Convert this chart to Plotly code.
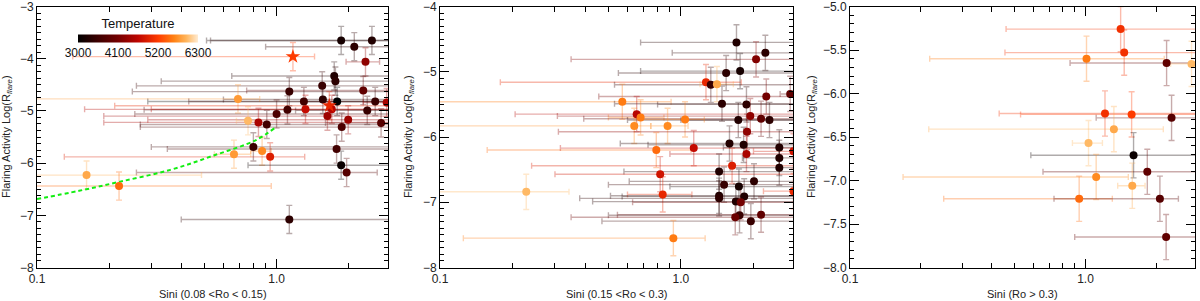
import re
import plotly.graph_objects as go
from plotly.colors import sample_colorscale

TMIN, TMAX = 3000, 6300
CSCALE = [[0.0, 'rgb(0,0,0)'], [0.15, 'rgb(55,0,0)'], [0.33, 'rgb(115,0,0)'],
          [0.5, 'rgb(190,5,0)'], [0.67, 'rgb(255,60,0)'], [0.8, 'rgb(255,130,20)'],
          [0.9, 'rgb(255,180,90)'], [1.0, 'rgb(255,235,210)']]
CB_TICKS = [3000, 4100, 5200, 6300]

# ---------------- Panel 1 (0.08 < Ro < 0.15) ----------------
P1_X = [1.86, 2.50, 2.11, 2.35, 1.74, 1.76, 1.13, 1.55, 2.30, 1.56, 1.79, 0.69, 1.30, 2.58,
        2.88, 1.70, 1.32, 1.11, 2.39, 1.00, 1.63, 1.99, 0.84, 0.76, 0.91, 1.87, 2.73, 0.80,
        0.87, 0.94, 1.78, 1.86, 1.96, 1.13, 0.161, 0.220, 0.664]
P1_Y = [-3.65, -3.65, -3.77, -4.06, -4.33, -4.43, -4.63, -4.52, -4.61, -4.78, -4.82, -4.77,
        -4.82, -4.82, -4.84, -4.97, -4.97, -4.98, -4.99, -5.06, -5.10, -5.17, -5.22, -5.19,
        -5.26, -5.31, -5.23, -5.69, -5.77, -5.88, -5.73, -6.04, -6.18, -7.08, -6.23, -6.44,
        -5.83]
P1_T = [3200, 3300, 3400, 4300, 3300, 3400, 3500, 3500, 3900, 3400, 3000, 5800, 3600, 3500,
        4500, 4600, 4700, 3600, 3500, 3700, 4400, 4400, 4500, 6000, 3600, 3700, 3800, 3500,
        5700, 4900, 3600, 3100, 3800, 3400, 5900, 5500, 5800]
P1_XLO = [0.51, 0.53, 0.90, 1.95, 0.65, 0.33, 0.25, 0.26, 0.75, 0.60, 0.29, 0.05, 0.43, 1.30,
          2.30, 0.158, 0.30, 0.28, 1.20, 0.256, 0.19, 0.29, 0.19, 0.68, 0.27, 0.27, 1.60, 0.30,
          0.78, 0.13, 0.35, 0.76, 0.26, 0.40, 0.05, 0.05, 0.55]
P1_XHI = [5, 5, 5, 2.69, 5, 5, 5, 5, 5, 5, 5, 0.85, 5, 5,
          5, 5, 5, 5, 5, 5, 5, 5, 5, 0.85, 5, 5, 5, 5,
          0.95, 1.31, 5, 5, 2.63, 5, 0.486, 0.95, 0.78]
P1_YERR = [0.27, 0.27, 0.27, 0.27, 0.27, 0.27, 0.27, 0.27, 0.27, 0.27, 0.27, 0.27, 0.27, 0.27,
           0.27, 0.27, 0.27, 0.27, 0.27, 0.27, 0.27, 0.27, 0.27, 0.27, 0.27, 0.27, 0.27, 0.27,
           0.27, 0.27, 0.27, 0.27, 0.27, 0.27, 0.27, 0.27, 0.27]
# star symbols in panel 1
P1S_X = [1.17, 1.66]
P1S_Y = [-3.96, -4.90]
P1S_T = [5200, 5000]
P1S_XLO = [0.141, 0.211]
P1S_XHI = [1.44, 5]
P1S_YERR = [0.27, 0.27]
# green dashed relation in panel 1
LINE_X = [0.10, 0.15, 0.22, 0.36, 0.55, 0.82, 0.98]
LINE_Y = [-6.69, -6.53, -6.36, -6.13, -5.85, -5.56, -5.33]

# ---------------- Panel 2 (0.15 < Ro < 0.3) ----------------
P2_X = [1.70, 2.24, 2.05, 1.54, 1.76, 1.27, 1.33, 1.41, 2.84, 2.26, 0.571, 1.48, 1.87, 0.655,
        0.68, 1.94, 2.15, 2.33, 1.73, 1.04, 0.64, 0.88, 1.88, 1.59, 1.82, 1.13, 0.79, 2.56,
        2.93, 1.87, 2.56, 2.56, 1.63, 1.44, 0.82, 2.01, 1.51, 1.74, 2.93, 0.84, 1.83, 1.44,
        1.44, 1.69, 1.77, 2.15, 1.75, 1.68, 1.95, 0.93, 0.228]
P2_Y = [-4.55, -4.71, -4.81, -5.02, -4.99, -5.16, -5.20, -5.19, -5.34, -5.38, -5.46, -5.49,
        -5.50, -5.65, -5.70, -5.68, -5.72, -5.74, -5.74, -5.73, -5.83, -5.83, -5.92, -6.10,
        -6.12, -6.17, -6.20, -6.16, -6.22, -6.26, -6.32, -6.47, -6.44, -6.53, -6.57, -6.68,
        -6.73, -6.76, -6.83, -6.88, -6.91, -6.90, -6.94, -6.99, -7.00, -7.19, -7.20, -7.23,
        -7.29, -7.55, -6.84]
P2_T = [3300, 3400, 4200, 3400, 3200, 5000, 3500, 5900, 3900, 4100, 5600, 3400, 3400, 4600,
        5600, 4300, 3900, 3400, 3300, 5600, 5700, 5700, 4300, 3300, 3300, 4700, 5500, 3300,
        4800, 4500, 3300, 3300, 4900, 3300, 4800, 3400, 3500, 3200, 5000, 5000, 3300, 3300,
        3400, 3300, 4100, 3900, 3500, 4000, 3500, 5600, 6000]
P2_XLO = [0.68, 0.92, 0.35, 0.55, 0.68, 0.178, 0.53, 1.20, 2.58, 0.456, 0.05, 0.53, 0.80, 0.205,
          0.50, 0.307, 0.395, 1.00, 0.60, 0.65, 0.05, 0.75, 0.31, 0.56, 0.73, 0.316, 0.157, 1.50,
          2.00, 0.90, 1.80, 1.60, 0.24, 0.58, 0.30, 0.61, 0.50, 0.90, 2.20, 0.60, 0.57, 0.51,
          0.38, 0.43, 0.63, 0.545, 0.50, 0.35, 0.47, 0.125, 0.05]
P2_XHI = [5, 5, 5, 5, 5, 1.78, 5, 1.65, 5, 5, 0.91, 5, 5, 5,
          0.85, 5, 5, 5, 5, 1.25, 0.75, 1.07, 5, 5, 5, 5, 1.10, 5,
          5, 5, 5, 5, 5, 5, 5, 5, 5, 5, 5, 1.11, 5, 5,
          5, 5, 5, 5, 5, 5, 5, 1.26, 0.343]
P2_YERR = [0.27, 0.27, 0.27, 0.27, 0.27, 0.27, 0.27, 0.27, 0.27, 0.27, 0.27, 0.27, 0.27, 0.27,
           0.27, 0.27, 0.27, 0.27, 0.27, 0.27, 0.27, 0.27, 0.27, 0.27, 0.27, 0.27, 0.27, 0.27,
           0.27, 0.27, 0.27, 0.27, 0.27, 0.27, 0.27, 0.27, 0.27, 0.27, 0.27, 0.27, 0.27, 0.27,
           0.27, 0.27, 0.27, 0.27, 0.27, 0.27, 0.27, 0.27, 0.27]

# ---------------- Panel 3 (Ro > 0.3) ----------------
P3_X = [1.41, 1.46, 1.01, 2.21, 2.82, 1.21, 1.57, 2.32, 1.32, 1.03, 1.60, 1.83, 1.11, 1.58,
        0.94, 2.07, 2.20]
P3_Y = [-5.26, -5.53, -5.60, -5.65, -5.66, -6.23, -6.24, -6.28, -6.41, -6.57, -6.71, -6.90,
        -6.96, -7.06, -7.21, -7.21, -7.65]
P3_T = [5100, 5100, 5600, 3900, 6000, 5100, 5200, 3800, 5900, 6000, 3100, 3900, 5700, 5900,
        5500, 3800, 3900]
P3_XLO = [0.46, 0.455, 0.218, 0.86, 2.30, 0.43, 0.53, 1.11, 0.216, 0.88, 0.586, 0.66, 0.168,
          1.37, 0.25, 0.735, 0.90]
P3_XHI = [5, 5, 2.16, 5, 5, 5, 5, 5, 2.14, 1.18, 5, 5, 1.52, 1.79, 1.30, 2.48, 5]
P3_YERR = [0.26, 0.26, 0.26, 0.26, 0.26, 0.26, 0.26, 0.26, 0.26, 0.26, 0.26, 0.26, 0.26, 0.26,
           0.26, 0.26, 0.26]

Y_TICKS = [[-8, -7, -6, -5, -4, -3], [-8, -7, -6, -5, -4], [-8.0, -7.5, -7.0, -6.5, -6.0, -5.5, -5.0]]
X_TITLES = ['Sini (0.08 &lt;Ro &lt; 0.15)', 'Sini (0.15 &lt;Ro &lt; 0.3)', 'Sini (Ro &gt; 0.3)']
Y_TITLE = 'Flaring Activity Log(R<sub><i>flare</i></sub>)'

FONT = 'Liberation Sans'
W, H = 1200, 301
# plot-area pixel boxes (left, right) ; common top/bottom
PX_BOX = [(37, 388), (440, 793), (850, 1195)]
TOP, BOT = 6.5, 267.5
YTITLE_X = [7, 409, 812]


def tcolor(t, a):
    c = sample_colorscale(CSCALE, [(t - TMIN) / (TMAX - TMIN)])[0]
    r, g, b = [float(v) for v in re.findall(r'[\d.]+', c)[:3]]
    return f'rgba({r:.0f},{g:.0f},{b:.0f},{a})'


fig = go.Figure()

panels = [
    (P1_X, P1_Y, P1_T, P1_XLO, P1_XHI, P1_YERR),
    (P2_X, P2_Y, P2_T, P2_XLO, P2_XHI, P2_YERR),
    (P3_X, P3_Y, P3_T, P3_XLO, P3_XHI, P3_YERR),
]
axes = [('x', 'y'), ('x2', 'y2'), ('x3', 'y3')]


def add_errbars(xs, ys, ts, xlo, xhi, yerr, xa, ya):
    for x, y, t, lo, hi, ye in zip(xs, ys, ts, xlo, xhi, yerr):
        col = tcolor(t, 0.33)
        fig.add_trace(go.Scatter(
            x=[x], y=[y], mode='markers', marker=dict(size=1, opacity=0),
            error_x=dict(type='data', symmetric=False, array=[hi - x], arrayminus=[x - lo],
                         color=col, thickness=1.4, width=3),
            error_y=dict(type='data', array=[ye], color=col, thickness=1.4, width=3),
            xaxis=xa, yaxis=ya, showlegend=False, hoverinfo='skip'))


# error bars first
for (xs, ys, ts, lo, hi, ye), (xa, ya) in zip(panels, axes):
    add_errbars(xs, ys, ts, lo, hi, ye, xa, ya)
add_errbars(P1S_X, P1S_Y, P1S_T, P1S_XLO, P1S_XHI, P1S_YERR, 'x', 'y')

# green dashed relation
fig.add_trace(go.Scatter(x=LINE_X, y=LINE_Y, mode='lines', line=dict(color='#11ee11', width=2,
                         dash='4px,3px', shape='spline'),
                         xaxis='x', yaxis='y', showlegend=False, hoverinfo='skip'))

# markers
for i, ((xs, ys, ts, lo, hi, ye), (xa, ya)) in enumerate(zip(panels, axes)):
    mk = dict(size=8, color=ts, colorscale=CSCALE, cmin=TMIN, cmax=TMAX, line=dict(width=0),
              showscale=(i == 0))
    if i == 0:
        mk['colorbar'] = dict(orientation='h', x=138 / W, xanchor='center', y=1 - 38 / H,
                              yanchor='middle', lenmode='pixels', len=120, thickness=8,
                              outlinewidth=0, tickvals=CB_TICKS, ticks='', xpad=0, ypad=0,
                              tickfont=dict(size=12, color='#111', family=FONT),
                              title=dict(text='Temperature', side='top',
                                         font=dict(size=13, color='#111', family=FONT)))
    fig.add_trace(go.Scatter(x=xs, y=ys, mode='markers', marker=mk, xaxis=xa, yaxis=ya,
                             showlegend=False))

fig.add_trace(go.Scatter(x=P1S_X, y=P1S_Y, mode='markers',
                         marker=dict(symbol='star', size=11, color=P1S_T, colorscale=CSCALE,
                                     cmin=TMIN, cmax=TMAX, line=dict(width=0)),
                         xaxis='x', yaxis='y', showlegend=False))

ydom = [1 - BOT / H, 1 - TOP / H]
yranges = [[-8, -3], [-8, -4], [-8, -5]]
yminor = [0.125, 0.1, 0.1]
yfmt = ['d', 'd', '.1f']
minor_x = [0.2, 0.3, 0.4, 0.5, 0.6, 0.7, 0.8, 0.9, 2, 3]

layout = dict(width=W, height=H, margin=dict(l=0, r=0, t=0, b=0),
              paper_bgcolor='white', plot_bgcolor='white',
              font=dict(family=FONT, size=12, color='#222'))
annotations = []
for i in range(3):
    l, r = PX_BOX[i]
    xk = 'xaxis' if i == 0 else f'xaxis{i+1}'
    yk = 'yaxis' if i == 0 else f'yaxis{i+1}'
    ya = 'y' if i == 0 else f'y{i+1}'
    xa = 'x' if i == 0 else f'x{i+1}'
    layout[xk] = dict(type='log', range=[-1, 0.465], domain=[l / W, r / W], anchor=ya,
                      tickmode='array', tickvals=[0.1, 1], ticktext=['0.1', '1.0'],
                      ticks='inside', ticklen=9, tickwidth=1, tickcolor='black',
                      showline=True, linecolor='black', linewidth=1, mirror='ticks',
                      showgrid=False, zeroline=False, automargin=False,
                      ticklabeloverflow='allow',
                      minor=dict(tickmode='array', tickvals=minor_x, ticks='inside', ticklen=5,
                                 tickcolor='black', showgrid=False),
                      tickfont=dict(size=12, color='#222'))
    layout[yk] = dict(range=yranges[i], domain=ydom, anchor=xa,
                      tickmode='array', tickvals=Y_TICKS[i],
                      tickformat=yfmt[i], ticks='inside', ticklen=9, tickwidth=1,
                      tickcolor='black', showline=True, linecolor='black', linewidth=1,
                      mirror='ticks', showgrid=False, zeroline=False, automargin=False,
                      ticklabeloverflow='allow',
                      minor=dict(tickmode='linear', tick0=-8, dtick=yminor[i], ticks='inside',
                                 ticklen=4, tickcolor='black', showgrid=False),
                      tickfont=dict(size=12, color='#222'))
    annotations.append(dict(text=X_TITLES[i], x=(l + r) / 2 / W, y=1 - 294 / H,
                            xref='paper', yref='paper', showarrow=False,
                            xanchor='center', yanchor='middle',
                            font=dict(size=11, color='#222')))
    annotations.append(dict(text=Y_TITLE, x=YTITLE_X[i] / W, y=1 - (TOP + BOT) / 2 / H,
                            xref='paper', yref='paper', showarrow=False, textangle=-90,
                            xanchor='center', yanchor='middle',
                            font=dict(size=11, color='#222')))
layout['annotations'] = annotations
fig.update_layout(**layout)

fig.write_html('out.html', config={'displayModeBar': False},
               post_script="document.body.style.margin='0px';"
               "document.body.style.overflow='hidden';")
